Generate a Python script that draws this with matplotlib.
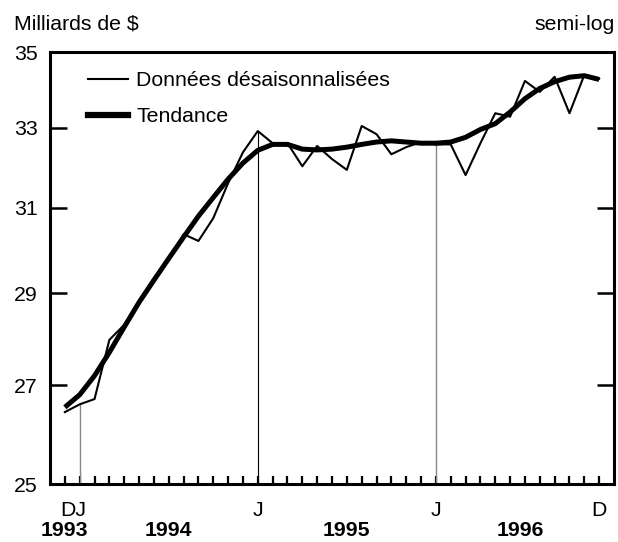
import numpy as np
import matplotlib.pyplot as plt
import matplotlib.transforms as mtransforms
from matplotlib.lines import Line2D

plt.rcParams['font.family'] = ['Liberation Sans', 'DejaVu Sans']
FS = 15.3

# Monthly values, Dec 1993 .. Dec 1996 (billions of $)
months = np.arange(37)
data_sa = [26.44, 26.6, 26.71, 27.97, 28.3, 28.8, 29.35, 29.76, 30.37, 30.21,
           30.75, 31.6, 32.37, 32.91, 32.6, 32.6, 32.02, 32.53, 32.2, 31.93,
           33.04, 32.83, 32.32, 32.5, 32.63, 32.57, 32.57, 31.8, 32.6, 33.37,
           33.28, 34.22, 33.93, 34.33, 33.37, 34.38, 34.28]
trend = [26.54, 26.8, 27.2, 27.7, 28.25, 28.8, 29.3, 29.8, 30.3, 30.8,
         31.25, 31.7, 32.1, 32.42, 32.57, 32.57, 32.45, 32.43, 32.45, 32.5,
         32.57, 32.63, 32.66, 32.63, 32.6, 32.6, 32.63, 32.75, 32.95, 33.1,
         33.4, 33.75, 34.02, 34.2, 34.32, 34.36, 34.26]

month_labels = ['DJ', 'J', 'J', 'D']
month_label_pos = [0.6, 13, 25, 36]
year_labels = ['1993', '1994', '1995', '1996']
year_label_pos = [0, 7, 19, 30.7]
yticks = [25, 27, 29, 31, 33, 35]

fig = plt.figure(figsize=(6.18, 5.42), dpi=100)
ax = fig.add_axes([50 / 618, 1 - 484 / 542, 564 / 618, 432 / 542])

# drop lines at each January
ax.vlines(1, 25, data_sa[1], color='#888888', lw=1)
ax.vlines(13, 25, data_sa[13], color='black', lw=0.8)
ax.vlines(25, 25, data_sa[25], color='#888888', lw=1)

ax.plot(months, trend, color='black', lw=3.6, solid_capstyle='butt', zorder=3)
ax.plot(months, data_sa, color='black', lw=1.5, zorder=4)

ax.set_yscale('log')
ax.set_ylim(25, 35)
ax.set_xlim(-1, 37)
ax.set_yticks(yticks)
ax.set_yticklabels([str(v) for v in yticks])
ax.yaxis.set_minor_locator(plt.NullLocator())
ax.yaxis.set_minor_formatter(plt.NullFormatter())
ax.tick_params(axis='y', direction='in', length=12, width=1.8, right=True,
               labelsize=FS, pad=9)
ax.set_xticks(months)
ax.set_xticklabels([])
ax.tick_params(axis='x', direction='in', length=6, width=1.6)
for s in ax.spines.values():
    s.set_linewidth(2.2)

trans = mtransforms.blended_transform_factory(ax.transData, ax.transAxes)
for lab, pos in zip(month_labels, month_label_pos):
    ax.text(pos, -26 / 432, lab, transform=trans, ha='center', va='center', fontsize=FS)
for lab, pos in zip(year_labels, year_label_pos):
    ax.text(pos, -46 / 432, lab, transform=trans, ha='center', va='center',
            fontsize=FS, fontweight='bold')

handles = [Line2D([], [], color='black', lw=1.5),
           Line2D([], [], color='black', lw=4.5)]
ax.legend(handles, ['Données désaisonnalisées', 'Tendance'], loc='upper left',
          bbox_to_anchor=(38 / 564, 1 - 19 / 432), frameon=False, fontsize=FS,
          borderpad=0, borderaxespad=0, handlelength=1.88, handletextpad=0.38,
          labelspacing=0.8)

fig.text(14 / 618, 1 - 24 / 542, 'Milliards de $', ha='left', va='center', fontsize=FS)
fig.text(615 / 618, 1 - 24 / 542, 'semi-log', ha='right', va='center', fontsize=FS)

fig.savefig('out.png', dpi=100)
